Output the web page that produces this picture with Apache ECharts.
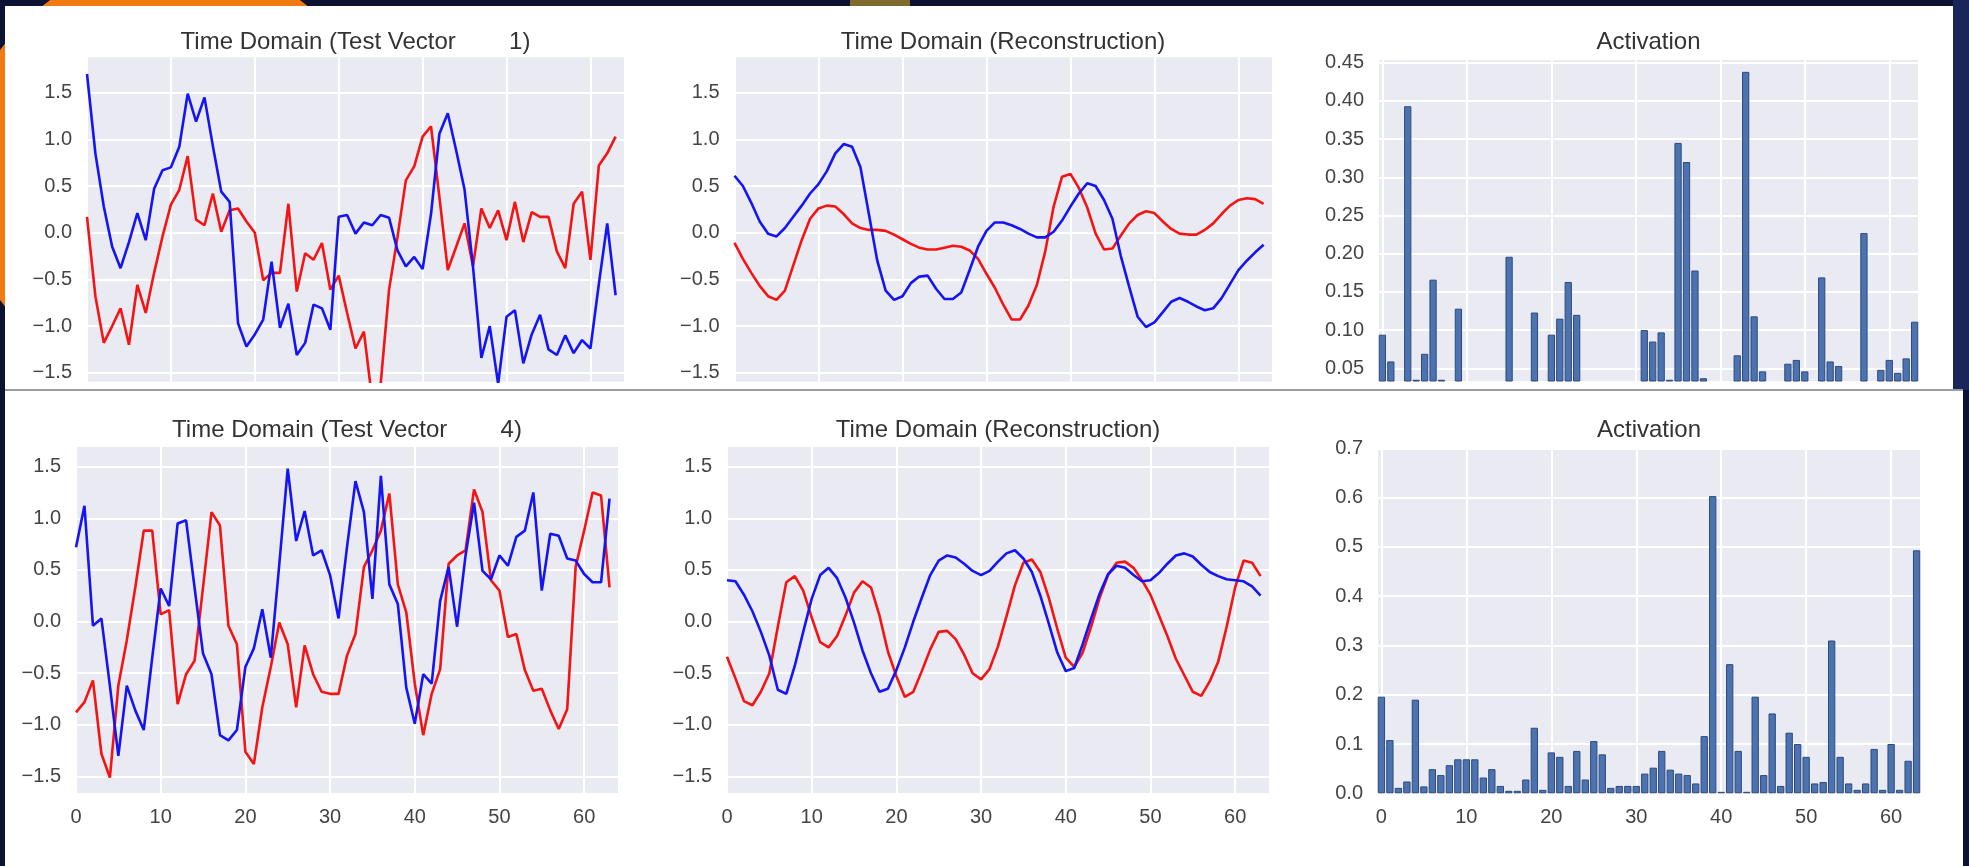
<!DOCTYPE html>
<html>
<head>
<meta charset="utf-8">
<script src="https://cdn.jsdelivr.net/npm/echarts@6/dist/echarts.min.js"></script>
<style>
html,body{margin:0;padding:0;background:#0b1232;}
#c{width:1969px;height:866px;}
</style>
</head>
<body>
<div id="c"></div>
<script>
// ---------------- DATA ----------------
const titleVec1 = 'Time Domain (Test Vector        1)';
const titleVec4 = 'Time Domain (Test Vector        4)';
const titleRecon = 'Time Domain (Reconstruction)';
const titleAct = 'Activation';

const vec1InputBlue = [1.70,0.85,0.28,-0.15,-0.38,-0.10,0.21,-0.08,0.47,0.67,
  0.70,0.92,1.49,1.19,1.45,0.93,0.44,0.33,-0.97,-1.22,
  -1.09,-0.93,-0.31,-1.02,-0.76,-1.31,-1.18,-0.77,-0.81,-1.04,
  0.17,0.19,-0.01,0.11,0.08,0.19,0.16,-0.19,-0.36,-0.26,
  -0.39,0.20,1.06,1.28,0.88,0.46,-0.36,-1.34,-1.00,-1.62,
  -0.90,-0.83,-1.40,-1.09,-0.88,-1.25,-1.31,-1.10,-1.29,-1.15,
  -1.24,-0.55,0.10,-0.67];
const vec1InputRed = [0.17,-0.68,-1.18,-1.00,-0.81,-1.20,-0.56,-0.86,-0.43,-0.04,
  0.30,0.46,0.82,0.14,0.08,0.42,0.01,0.24,0.26,0.12,
  0.00,-0.51,-0.43,-0.43,0.31,-0.63,-0.22,-0.29,-0.11,-0.61,
  -0.46,-0.86,-1.24,-1.06,-1.80,-1.62,-0.61,-0.05,0.56,0.71,
  1.03,1.14,0.38,-0.40,-0.15,0.10,-0.36,0.26,0.05,0.24,
  -0.08,0.33,-0.10,0.22,0.17,0.17,-0.20,-0.38,0.31,0.44,
  -0.29,0.72,0.85,1.03];
const vec1ReconBlue = [0.61,0.50,0.32,0.12,-0.01,-0.04,0.05,0.17,0.29,0.42,
  0.52,0.66,0.85,0.95,0.92,0.70,0.20,-0.30,-0.62,-0.72,
  -0.68,-0.54,-0.47,-0.46,-0.60,-0.71,-0.71,-0.64,-0.40,-0.15,
  0.02,0.11,0.11,0.08,0.04,-0.01,-0.05,-0.05,0.01,0.13,
  0.28,0.42,0.53,0.50,0.35,0.15,-0.25,-0.58,-0.90,-1.01,
  -0.96,-0.85,-0.74,-0.70,-0.74,-0.79,-0.83,-0.81,-0.70,-0.55,
  -0.40,-0.30,-0.21,-0.13];
const vec1ReconRed = [-0.11,-0.28,-0.43,-0.57,-0.68,-0.72,-0.62,-0.35,-0.08,0.15,
  0.26,0.29,0.28,0.20,0.10,0.05,0.03,0.03,0.02,-0.02,
  -0.07,-0.12,-0.16,-0.18,-0.18,-0.16,-0.14,-0.15,-0.19,-0.28,
  -0.44,-0.59,-0.77,-0.93,-0.93,-0.78,-0.56,-0.20,0.28,0.60,
  0.63,0.48,0.27,-0.01,-0.18,-0.17,-0.03,0.10,0.19,0.23,
  0.21,0.12,0.04,-0.01,-0.02,-0.02,0.03,0.10,0.20,0.29,
  0.35,0.37,0.36,0.31];
const vec1Activation = [0.094,0.059,0,0.393,0.035,0.069,0.166,0.035,0,0.128,
  0,0,0,0,0,0.196,0,0,0.123,0,
  0.094,0.115,0.163,0.120,0,0,0,0,0,0,
  0,0.100,0.085,0.097,0.035,0.345,0.320,0.178,0.037,0,
  0,0,0.067,0.438,0.118,0.046,0,0,0.056,0.061,
  0.046,0,0.169,0.059,0.053,0,0,0.227,0,0.048,
  0.061,0.044,0.063,0.111];

const vec4InputBlue = [0.72,1.12,-0.04,0.03,-0.62,-1.30,-0.62,-0.86,-1.05,-0.35,
  0.32,0.15,0.95,0.98,0.33,-0.31,-0.51,-1.10,-1.15,-1.05,
  -0.44,-0.26,0.12,-0.35,0.55,1.48,0.78,1.07,0.64,0.69,
  0.45,0.03,0.72,1.36,1.06,0.22,1.41,0.36,0.17,-0.64,
  -0.99,-0.51,-0.60,0.20,0.53,-0.05,0.64,1.15,0.49,0.41,
  0.64,0.54,0.82,0.88,1.25,0.30,0.85,0.83,0.61,0.59,
  0.46,0.38,0.38,1.19];
const vec4InputRed = [-0.88,-0.78,-0.57,-1.28,-1.51,-0.62,-0.18,0.33,0.88,0.88,
  0.07,0.11,-0.80,-0.51,-0.38,0.33,1.06,0.93,-0.04,-0.22,
  -1.26,-1.38,-0.83,-0.44,-0.01,-0.22,-0.83,-0.23,-0.51,-0.68,
  -0.70,-0.70,-0.33,-0.12,0.53,0.69,0.88,1.24,0.36,0.09,
  -0.60,-1.10,-0.70,-0.46,0.56,0.64,0.69,1.28,1.06,0.40,
  0.30,-0.15,-0.12,-0.47,-0.67,-0.65,-0.86,-1.04,-0.85,0.53,
  0.88,1.25,1.22,0.33];
const vec4ReconBlue = [0.40,0.39,0.26,0.10,-0.10,-0.33,-0.66,-0.70,-0.43,-0.10,
  0.22,0.45,0.52,0.42,0.23,-0.01,-0.28,-0.50,-0.68,-0.65,
  -0.47,-0.25,0.00,0.23,0.45,0.59,0.64,0.62,0.56,0.49,
  0.45,0.49,0.58,0.66,0.69,0.61,0.48,0.25,-0.02,-0.30,
  -0.48,-0.45,-0.22,0.03,0.27,0.46,0.54,0.52,0.45,0.39,
  0.40,0.47,0.56,0.64,0.66,0.63,0.55,0.48,0.44,0.41,
  0.40,0.39,0.34,0.25];
const vec4ReconRed = [-0.34,-0.55,-0.77,-0.81,-0.68,-0.50,-0.05,0.38,0.44,0.30,
  0.04,-0.20,-0.25,-0.14,0.06,0.28,0.39,0.33,0.06,-0.29,
  -0.53,-0.73,-0.68,-0.48,-0.27,-0.10,-0.09,-0.17,-0.32,-0.50,
  -0.56,-0.46,-0.24,0.05,0.35,0.57,0.60,0.48,0.23,-0.07,
  -0.35,-0.44,-0.30,-0.05,0.23,0.45,0.57,0.58,0.52,0.40,
  0.26,0.06,-0.14,-0.36,-0.52,-0.68,-0.72,-0.58,-0.39,-0.05,
  0.33,0.59,0.57,0.44];
const vec4Activation = [0.196,0.108,0.011,0.024,0.190,0.014,0.049,0.037,0.057,0.069,
  0.069,0.069,0.032,0.049,0.015,0.005,0.005,0.028,0.133,0.007,
  0.083,0.074,0.015,0.086,0.028,0.106,0.079,0.011,0.015,0.015,
  0.015,0.040,0.052,0.086,0.048,0.040,0.037,0.020,0.116,0.603,
  0.003,0.262,0.086,0.003,0.196,0.037,0.162,0.015,0.123,0.100,
  0.074,0.020,0.023,0.310,0.074,0.020,0.007,0.020,0.090,0.007,
  0.100,0.007,0.066,0.493];

const xTickValues = [0,10,20,30,40,50,60];
const lineYTickValues = [-1.5,-1.0,-0.5,0.0,0.5,1.0,1.5];
const act1TickValues = [0.05,0.10,0.15,0.20,0.25,0.30,0.35,0.40,0.45];
const act4TickValues = [0.0,0.1,0.2,0.3,0.4,0.5,0.6,0.7];

// ---------------- STYLE / LAYOUT ----------------
const FONT = '"Liberation Sans", Arial, Helvetica, sans-serif';
const BLUE = '#1414f5';
const RED = '#f41414';
const BAR = '#4C72B0';
const PLOT_BG = '#EAEAF2';

const panels = [
  {grid:{left:87, top:57.3, width:537, height:324.4}, x:[0,64], y:[-1.596,1.879], yt:lineYTickValues, dec:1, xl:false},
  {grid:{left:734.5, top:57.3, width:537.5, height:324.4}, x:[0,64], y:[-1.596,1.879], yt:lineYTickValues, dec:1, xl:false},
  {grid:{left:1379, top:60, width:539, height:321}, x:[-0.4,63.4], y:[0.0334,0.4535], yt:act1TickValues, dec:2, xl:false},
  {grid:{left:76, top:447, width:542, height:346}, x:[0,64], y:[-1.66,1.69], yt:lineYTickValues, dec:1, xl:true},
  {grid:{left:727, top:447, width:542, height:346}, x:[0,64], y:[-1.66,1.69], yt:lineYTickValues, dec:1, xl:true},
  {grid:{left:1378, top:448.3, width:542, height:345}, x:[-0.4,63.4], y:[0,0.7], yt:act4TickValues, dec:1, xl:true}
];
const titleDefs = [
  {text:titleVec1, x:355.5, y:42},
  {text:titleRecon, x:1003, y:42},
  {text:titleAct, x:1648.5, y:42},
  {text:titleVec4, x:347, y:430},
  {text:titleRecon, x:998, y:430},
  {text:titleAct, x:1649, y:430}
];

function fmt(v, dec){
  const s = Math.abs(v).toFixed(dec);
  return (v < -1e-9 ? '\u2212' : '') + s;
}

const grids = [], xAxes = [], yAxes = [];
panels.forEach((p, k) => {
  grids.push(Object.assign({show:true, backgroundColor:PLOT_BG, borderWidth:0, containLabel:false}, p.grid));
  xAxes.push({
    type:'value', gridIndex:k, min:p.x[0], max:p.x[1],
    axisLine:{show:false},
    axisTick:{show:false, customValues:xTickValues},
    axisLabel:{show:p.xl, customValues:xTickValues, margin:14, fontSize:20, color:'#444', fontFamily:FONT,
      formatter:v=>String(Math.round(v))},
    splitLine:{show:true, lineStyle:{color:'#ffffff', width:2}}
  });
  yAxes.push({
    type:'value', gridIndex:k, min:p.y[0], max:p.y[1],
    axisLine:{show:false},
    axisTick:{show:false, customValues:p.yt},
    axisLabel:{show:true, customValues:p.yt, margin:15, fontSize:20, color:'#444', fontFamily:FONT,
      formatter:v=>fmt(v, p.dec)},
    splitLine:{show:true, lineStyle:{color:'#ffffff', width:2}}
  });
});

function lineSeries(values, color, idx){
  return {type:'line', xAxisIndex:idx, yAxisIndex:idx,
    data:values.map((v,i)=>[i,v]), showSymbol:false, symbol:'none',
    lineStyle:{color:color, width:2.6}, itemStyle:{color:color}, clip:true, z:3};
}
function barSeries(values, idx){
  return {type:'bar', xAxisIndex:idx, yAxisIndex:idx,
    data:values.map((v,i)=>[i,v]), barWidth:'86%', clip:true,
    itemStyle:{color:BAR, borderColor:'#2c4a7c', borderWidth:1}};
}

const series = [
  lineSeries(vec1InputRed, RED, 0), lineSeries(vec1InputBlue, BLUE, 0),
  lineSeries(vec1ReconRed, RED, 1), lineSeries(vec1ReconBlue, BLUE, 1),
  barSeries(vec1Activation, 2),
  lineSeries(vec4InputRed, RED, 3), lineSeries(vec4InputBlue, BLUE, 3),
  lineSeries(vec4ReconRed, RED, 4), lineSeries(vec4ReconBlue, BLUE, 4),
  barSeries(vec4Activation, 5)
];

const graphics = [
  {type:'rect', z:-100, shape:{x:0,y:0,width:1969,height:866}, style:{fill:'#0b1232'}},
  {type:'ring', z:-99, shape:{cx:175, cy:175, r:215, r0:150}, style:{fill:'#f27a12'}},
  {type:'rect', z:-99, shape:{x:850,y:0,width:60,height:6}, style:{fill:'#7d6a2c'}},
  {type:'rect', z:-99, shape:{x:1953,y:0,width:16,height:390}, style:{fill:'#18265a'}},
  {type:'rect', z:-98, shape:{x:5,y:6,width:1948,height:383}, style:{fill:'#ffffff'}},
  {type:'rect', z:-98, shape:{x:5,y:391,width:1958,height:475}, style:{fill:'#ffffff'}},
  {type:'rect', z:-97, shape:{x:5,y:389,width:1958,height:2}, style:{fill:'#9c9c9c'}}
];
titleDefs.forEach(t => {
  graphics.push({type:'text', z:5, x:t.x, y:t.y,
    style:{text:t.text, textAlign:'center', textVerticalAlign:'middle',
      fontSize:24, fontFamily:FONT, fill:'#333333'}});
});

const chart = echarts.init(document.getElementById('c'), null, {renderer:'canvas'});
chart.setOption({
  animation:false,
  graphic:{elements:graphics},
  grid:grids, xAxis:xAxes, yAxis:yAxes, series:series
});
</script>
</body>
</html>
